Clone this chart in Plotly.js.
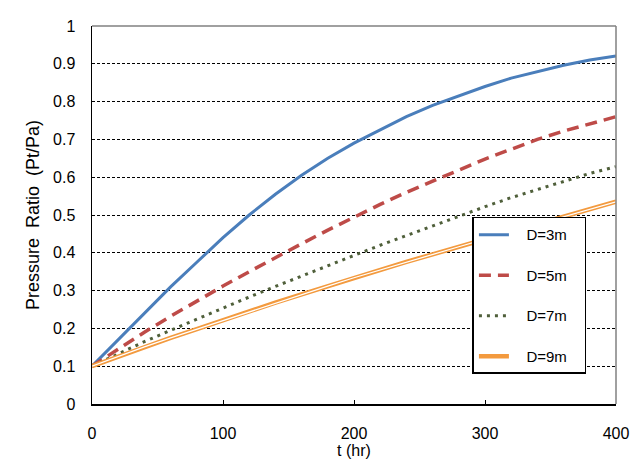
<!DOCTYPE html>
<html>
<head>
<meta charset="utf-8">
<script src="https://cdn.plot.ly/plotly-3.0.1.min.js"></script>
<style>html,body{margin:0;padding:0;background:#fff;}#chart{width:642px;height:472px;}</style>
</head>
<body>
<div id="chart"></div>
<script>
const tHours = [0,20,40,60,80,100,120,140,160,180,200,220,240,260,280,300,320,340,360,380,400];
const d3m = [0.1,0.17,0.24,0.31,0.375,0.44,0.50,0.555,0.605,0.65,0.69,0.725,0.76,0.79,0.815,0.84,0.862,0.88,0.896,0.91,0.921];
const d5m = [0.1,0.145,0.19,0.232,0.273,0.312,0.35,0.388,0.424,0.46,0.495,0.528,0.56,0.59,0.62,0.648,0.674,0.70,0.722,0.742,0.76];
const d7m = [0.1,0.133,0.165,0.195,0.225,0.254,0.283,0.311,0.339,0.366,0.393,0.42,0.446,0.472,0.498,0.522,0.546,0.568,0.59,0.61,0.628];
const d9m = [0.1,0.126,0.151,0.175,0.198,0.222,0.245,0.268,0.29,0.312,0.334,0.355,0.376,0.396,0.416,0.436,0.456,0.476,0.496,0.516,0.535];
const seriesNames = ["D=3m","D=5m","D=7m","D=9m"];
const xTicks = [0,100,200,300,400];
const yTicks = [0,0.1,0.2,0.3,0.4,0.5,0.6,0.7,0.8,0.9,1];
const yTickText = ["0","0.1","0.2","0.3","0.4","0.5","0.6","0.7","0.8","0.9","1"];

const FONT = "Liberation Sans, Arial, sans-serif";
const pad = s => "\u00a0\u00a0\u00a0" + s + "\u00a0\u00a0\u00a0";
const traces = [
  {x:tHours, y:d3m, name:pad(seriesNames[0]), legendgroup:"a", mode:"lines",
   line:{color:"#4a7ebb", width:3}},
  {x:tHours, y:d5m, name:pad(seriesNames[1]), legendgroup:"b", mode:"lines",
   line:{color:"#be4b48", width:3.5, dash:"12px,7px"}},
  {x:tHours, y:d7m, name:pad(seriesNames[2]), legendgroup:"c", mode:"lines",
   line:{color:"#4f5f3a", width:3, dash:"3px,5px"}},
  {x:tHours, y:d9m, name:pad(seriesNames[3]), legendgroup:"d", mode:"lines",
   line:{color:"#f39a3e", width:4.5}},
  {x:tHours, y:d9m, name:seriesNames[3], legendgroup:"d", showlegend:false, mode:"lines",
   line:{color:"#ffffff", width:1.3}, hoverinfo:"skip"}
];

const layout = {
  width:642, height:472,
  margin:{l:92, r:26, t:26, b:68},
  paper_bgcolor:"#ffffff", plot_bgcolor:"#ffffff",
  font:{family:FONT, size:16, color:"#000"},
  showlegend:true,
  legend:{x:0.726, y:0.495, xanchor:"left", yanchor:"top",
    bgcolor:"#ffffff", bordercolor:"#000", borderwidth:1.5,
    font:{family:FONT, size:15, color:"#000"},
    tracegroupgap:18, itemwidth:30},
  xaxis:{range:[0,400], tickvals:xTicks, ticktext:xTicks.map(String),
    showgrid:false, zeroline:false, showline:true, linecolor:"#000", linewidth:1.5,
    ticks:"inside", ticklen:4, tickcolor:"#000", ticklabelstandoff:14,
    tickfont:{family:FONT, size:16},
    title:{text:"t (hr)", font:{family:FONT, size:16}, standoff:4}},
  yaxis:{range:[0,1], tickvals:yTicks, ticktext:yTickText,
    showgrid:true, gridcolor:"#000", gridwidth:1, griddash:"3px,2px",
    zeroline:false, showline:true, linecolor:"#000", linewidth:1.5,
    ticks:"", ticklabelstandoff:12,
    tickfont:{family:FONT, size:16},
    title:{text:"Pressure  Ratio  (Pt/Pa)", font:{family:FONT, size:18}, standoff:8}},
  shapes:[
    {type:"line", xref:"paper", yref:"paper", x0:0, x1:1, y0:1, y1:1, line:{color:"#808080", width:1.5}},
    {type:"line", xref:"paper", yref:"paper", x0:1, x1:1, y0:0, y1:1, line:{color:"#808080", width:1.5}}
  ]
};
Plotly.newPlot("chart", traces, layout, {displayModeBar:false, staticPlot:true});
</script>
</body>
</html>
